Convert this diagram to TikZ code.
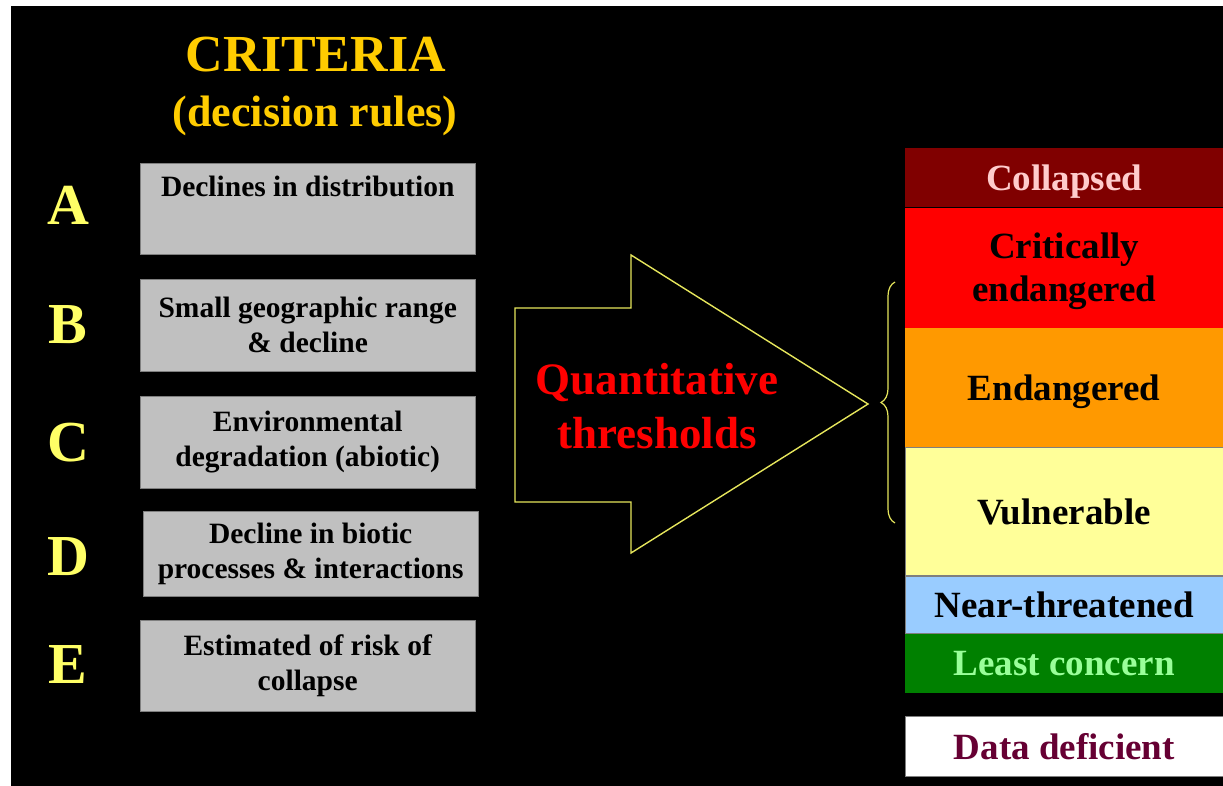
\documentclass[tikz,border=0pt]{standalone}
\usepackage{fontspec}
\setmainfont{Liberation Serif}
\usetikzlibrary{positioning,decorations.pathreplacing}
\definecolor{Gold}{HTML}{FFCC00}
\definecolor{Lemon}{HTML}{FFFF66}
\definecolor{Silver}{HTML}{C0C0C0}
\definecolor{Edge}{HTML}{7F7F7F}
\definecolor{Outline}{HTML}{E6E65C}
\definecolor{CollapsedFill}{HTML}{800000}
\definecolor{CollapsedText}{HTML}{FFCCCC}
\definecolor{CriticalFill}{HTML}{FF0000}
\definecolor{EndangeredFill}{HTML}{FF9900}
\definecolor{VulnerableFill}{HTML}{FFFF99}
\definecolor{NearFill}{HTML}{99CCFF}
\definecolor{LeastFill}{HTML}{008000}
\definecolor{LeastText}{HTML}{99FF99}
\definecolor{DeficientText}{HTML}{660033}

\begin{document}
\begin{tikzpicture}[
  x=1pt, y=-1pt,
  heading/.style={text=Gold, anchor=base, inner sep=0pt, font=\bfseries\fontsize{#1}{#1}\selectfont},
  letter/.style={text=Lemon, anchor=base, inner sep=0pt, font=\bfseries\fontsize{58}{60}\selectfont},
  rulebox/.style={draw=Edge, fill=Silver, text=black, anchor=north west, minimum width=335pt, minimum height=#1, inner sep=0pt, align=center, font=\bfseries\fontsize{29.5}{35}\selectfont},
  lvl/.style={minimum width=318pt, minimum height=#1, inner sep=0pt, text depth=0pt, align=center, font=\bfseries\fontsize{37}{43}\selectfont},
  lined/.style={draw=Edge, line width=0.6pt},
  outline/.style={draw=Outline, line width=1.4pt, line join=miter}
]
\useasboundingbox (0,0) rectangle (1223,786);
\fill[white] (0,0) rectangle (1223,786);
\fill[black] (11,6) rectangle (1223,786);

% criteria column
\node[heading=52] (crit) at (316,72) {CRITERIA};
\node[heading=44] (rules) at (315,127) {(decision rules)};

\node[rulebox=91pt] (ra) at (140,163) {Declines in distribution\\\strut};
\node[rulebox=92pt] (rb) at (140,279) {Small geographic range\\\& decline};
\node[rulebox=92pt] (rc) at (140,396) {Environmental\\degradation (abiotic)};
\node[rulebox=85pt] (rd) at (143,511) {Decline in biotic\\processes \& interactions};
\node[rulebox=91pt] (re) at (140,620) {Estimated of risk of\\collapse};

\node[letter] (la) at (68,225) {A};
\node[letter] (lb) at (68,343) {B};
\node[letter] (lc) at (68,461) {C};
\node[letter] (ld) at (68,575) {D};
\node[letter] (le) at (68,683) {E};

% block arrow
\draw[outline] (515,308) -- (631,308) -- (631,255) -- (868,404)
  -- (631,553) -- (631,502) -- (515,502) -- cycle;
\node[text=red, align=center, font=\bfseries\fontsize{45}{54}\selectfont] (qt) at (657,406) {Quantitative\\thresholds};

% categories
\node[lvl=59pt, fill=CollapsedFill, text=CollapsedText, anchor=north west] (col) at (905,148) {Collapsed};
\node[lvl=120pt, fill=CriticalFill, below=0pt of col] (cr) {Critically\\endangered};
\node[lvl=119pt, fill=EndangeredFill, below=0pt of cr] (en) {Endangered};
\node[lvl=128pt, fill=VulnerableFill, lined, below=0pt of en] (vu) {Vulnerable};
\node[lvl=57pt, fill=NearFill, lined, below=0pt of vu] (nt) {Near-threatened};
\node[lvl=59pt, fill=LeastFill, text=LeastText, below=0pt of nt] (lcn) {Least concern};
\node[lvl=60pt, fill=white, text=DeficientText, lined, anchor=north west] (dd) at (905,716) {Data deficient};

\draw[draw=Outline, line width=1.2pt, decorate, decoration={brace, amplitude=14pt}] (895,523) -- (895,282);
\end{tikzpicture}
\end{document}
